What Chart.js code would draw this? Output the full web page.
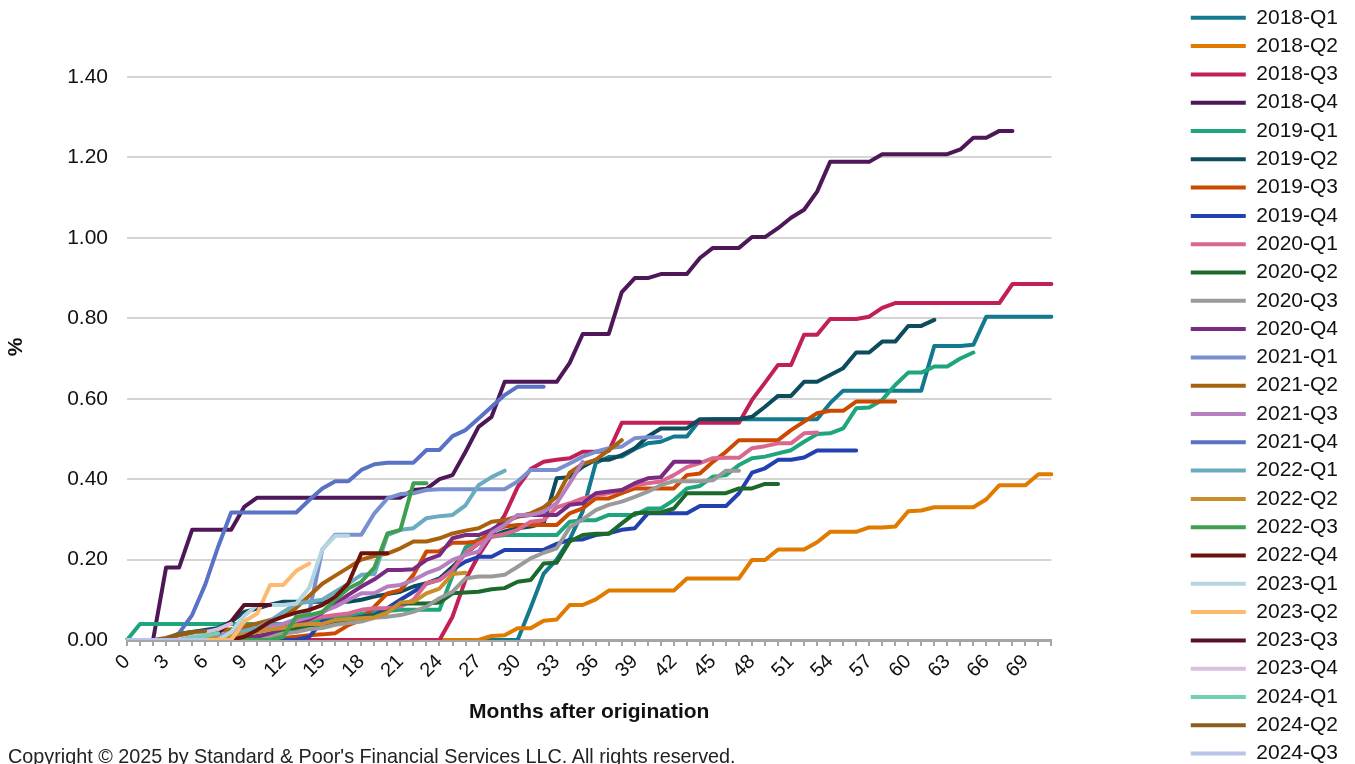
<!DOCTYPE html>
<html>
<head>
<meta charset="utf-8">
<script src="https://cdn.jsdelivr.net/npm/chart.js@4.4.1/dist/chart.umd.min.js"></script>
<style>
  html, body { margin: 0; padding: 0; background: #fff; overflow: hidden; width: 1355px; height: 764px; }
  #wrap { position: relative; width: 1355px; height: 764px; overflow: hidden; }
  #wrap canvas { position: absolute; left: 0; top: 0; }
  .note { position: absolute; left: 8px; top: 745px; font: 19.8px 'Liberation Sans', Arial, sans-serif; color: #222; white-space: nowrap; }
</style>
</head>
<body>
<div id="wrap">
  <canvas id="c" width="1355" height="764"></canvas>
  <div class="note">Copyright © 2025 by Standard &amp; Poor's Financial Services LLC. All rights reserved.</div>
</div>
<script>
// Months after origination (category axis), labelled every third month
const months = ['0','1','2','3','4','5','6','7','8','9','10','11','12','13','14','15','16','17','18','19',
  '20','21','22','23','24','25','26','27','28','29','30','31','32','33','34','35','36','37','38','39',
  '40','41','42','43','44','45','46','47','48','49','50','51','52','53','54','55','56','57','58','59',
  '60','61','62','63','64','65','66','67','68','69','70','71'];

const yTicks = [0, 0.2, 0.4, 0.6, 0.8, 1.0, 1.2, 1.4];

const cohorts = ['2018-Q1','2018-Q2','2018-Q3','2018-Q4','2019-Q1','2019-Q2','2019-Q3','2019-Q4',
  '2020-Q1','2020-Q2','2020-Q3','2020-Q4','2021-Q1','2021-Q2','2021-Q3','2021-Q4',
  '2022-Q1','2022-Q2','2022-Q3','2022-Q4','2023-Q1','2023-Q2','2023-Q3','2023-Q4',
  '2024-Q1','2024-Q2','2024-Q3'];

// Cumulative loss (%) by month after origination, one array per cohort
const q2018_1 = [0,0,0,0,0,0,0,0,0,0, 0,0,0,0,0,0,0,0,0,0, 0,0,0,0,0,0,0,0,0,0,
  0,0.08,0.165,0.2,0.25,0.32,0.44,0.455,0.456,0.475,
  0.489,0.493,0.506,0.506,0.547,0.549,0.549,0.549,0.549,0.549,
  0.549,0.549,0.549,0.549,0.589,0.62,0.62,0.62,0.62,0.62,
  0.62,0.62,0.731,0.731,0.731,0.734,0.804,0.804,0.804,0.804, 0.804,0.804];
const q2018_2 = [0,0,0,0,0,0,0,0,0,0, 0,0,0,0,0,0,0,0,0,0,
  0,0,0,0,0,0,0,0,0.01,0.012,
  0.029,0.029,0.048,0.051,0.087,0.087,0.101,0.123,0.123,0.123,
  0.123,0.123,0.123,0.153,0.153,0.153,0.153,0.153,0.199,0.199,
  0.225,0.225,0.225,0.243,0.269,0.269,0.269,0.28,0.28,0.282,
  0.32,0.322,0.33,0.33,0.33,0.33,0.35,0.385,0.385,0.385, 0.412,0.412];
const q2018_3 = [0,0,0,0,0,0,0,0,0,0, 0,0,0,0,0,0,0,0,0,0,
  0,0,0,0,0,0.058,0.15,0.21,0.26,0.31,
  0.38,0.425,0.443,0.448,0.452,0.468,0.468,0.47,0.54,0.54,
  0.54,0.54,0.54,0.54,0.54,0.54,0.54,0.54,0.597,0.64,
  0.684,0.684,0.759,0.759,0.798,0.798,0.798,0.804,0.826,0.838,
  0.838,0.838,0.838,0.838,0.838,0.838,0.838,0.838,0.885,0.885, 0.885,0.885];
const q2018_4 = [0,0,0,0.18,0.18,0.274,0.274,0.274,0.274,0.331,
  0.354,0.354,0.354,0.354,0.354,0.354,0.354,0.354,0.354,0.354,
  0.354,0.354,0.373,0.376,0.40,0.41,0.468,0.53,0.555,0.642,
  0.642,0.642,0.642,0.642,0.689,0.761,0.761,0.761,0.865,0.90,
  0.90,0.91,0.91,0.91,0.95,0.975,0.975,0.975,1.002,1.002,
  1.024,1.05,1.07,1.115,1.189,1.189,1.189,1.189,1.208,1.208,
  1.208,1.208,1.208,1.208,1.22,1.249,1.249,1.266,1.266];
const q2019_1 = [0,0.04,0.04,0.04,0.04,0.04,0.04,0.04,0.04,0.04,
  0.04,0.04,0.04,0.04,0.045,0.05,0.055,0.06,0.065,0.07,
  0.072,0.075,0.075,0.075,0.075,0.16,0.23,0.25,0.257,0.261,
  0.261,0.261,0.261,0.261,0.294,0.298,0.298,0.311,0.311,0.311,
  0.327,0.327,0.348,0.377,0.383,0.406,0.41,0.435,0.452,0.456,
  0.464,0.472,0.493,0.512,0.514,0.526,0.576,0.578,0.597,0.634,
  0.665,0.665,0.68,0.68,0.70,0.715];
const q2019_2 = [0,0,0,0,0.015,0.02,0.025,0.03,0.045,0.07,
  0.078,0.088,0.095,0.095,0.095,0.095,0.095,0.095,0.1,0.108,
  0.114,0.12,0.133,0.141,0.153,0.182,0.215,0.24,0.257,0.27,
  0.278,0.282,0.29,0.402,0.405,0.431,0.448,0.448,0.46,0.477,
  0.506,0.526,0.526,0.526,0.549,0.549,0.549,0.549,0.555,0.58,
  0.607,0.607,0.642,0.642,0.659,0.676,0.715,0.715,0.742,0.742,
  0.781,0.781,0.796];
const q2019_3 = [0,0,0,0,0,0,0,0,0,0,
  0,0,0.005,0.008,0.012,0.014,0.017,0.037,0.05,0.083,
  0.116,0.124,0.162,0.22,0.221,0.242,0.242,0.245,0.27,0.282,
  0.286,0.286,0.286,0.286,0.315,0.327,0.352,0.352,0.365,0.377,
  0.377,0.377,0.377,0.41,0.414,0.443,0.468,0.497,0.497,0.497,
  0.497,0.522,0.543,0.564,0.57,0.57,0.593,0.593,0.593,0.593];
const q2019_4 = [0,0,0,0,0,0,0,0,0,0,
  0,0,0,0,0.008,0.046,0.05,0.051,0.058,0.062,
  0.079,0.1,0.12,0.14,0.15,0.175,0.195,0.207,0.207,0.224,
  0.224,0.224,0.224,0.239,0.249,0.25,0.261,0.265,0.274,0.278,
  0.315,0.315,0.315,0.315,0.333,0.333,0.333,0.365,0.416,0.427,
  0.448,0.448,0.454,0.471,0.471,0.471,0.471];
const q2020_1 = [0,0,0,0,0,0,0,0,0,0,
  0,0.005,0.02,0.04,0.05,0.058,0.062,0.066,0.075,0.079,
  0.079,0.083,0.1,0.141,0.149,0.174,0.217,0.24,0.257,0.264,
  0.274,0.294,0.298,0.33,0.34,0.352,0.36,0.365,0.373,0.385,
  0.39,0.394,0.41,0.43,0.44,0.452,0.453,0.453,0.477,0.482,
  0.489,0.489,0.514,0.516];
const q2020_2 = [0,0,0,0,0,0,0,0,0,0.005,
  0.01,0.014,0.02,0.028,0.036,0.04,0.044,0.051,0.056,0.06,
  0.07,0.091,0.091,0.091,0.093,0.116,0.118,0.12,0.126,0.129,
  0.145,0.149,0.19,0.192,0.245,0.261,0.264,0.264,0.29,0.315,
  0.317,0.317,0.327,0.365,0.365,0.365,0.365,0.377,0.377,0.388,
  0.388];
const q2020_3 = [0,0,0,0,0,0,0,0,0,0,
  0.004,0.008,0.016,0.02,0.027,0.03,0.038,0.042,0.046,0.055,
  0.058,0.062,0.07,0.083,0.104,0.12,0.153,0.158,0.158,0.162,
  0.182,0.203,0.217,0.228,0.28,0.3,0.323,0.336,0.344,0.356,
  0.369,0.385,0.395,0.395,0.395,0.397,0.421,0.421];
const q2020_4 = [0,0,0,0,0,0,0,0,0,0,
  0.008,0.017,0.03,0.041,0.052,0.068,0.09,0.112,0.133,0.151,
  0.174,0.174,0.176,0.199,0.211,0.253,0.261,0.261,0.274,0.294,
  0.307,0.311,0.311,0.311,0.336,0.34,0.365,0.369,0.373,0.39,
  0.402,0.405,0.443,0.443,0.443];
const q2021_1 = [0,0,0,0,0,0,0.004,0.011,0.018,0.026,
  0.03,0.036,0.04,0.052,0.07,0.225,0.262,0.262,0.262,0.315,
  0.352,0.363,0.365,0.373,0.375,0.375,0.375,0.375,0.375,0.375,
  0.394,0.423,0.423,0.423,0.439,0.456,0.468,0.477,0.481,0.502,
  0.504,0.504];
const q2021_2 = [0,0,0,0,0.012,0.017,0.021,0.023,0.027,0.033,
  0.041,0.05,0.058,0.08,0.11,0.14,0.16,0.18,0.2,0.209,
  0.215,0.228,0.245,0.245,0.253,0.265,0.272,0.278,0.294,0.298,
  0.307,0.315,0.33,0.356,0.416,0.438,0.448,0.472,0.497];
const q2021_3 = [0,0,0,0,0,0,0,0,0.01,0.018,
  0.025,0.031,0.04,0.048,0.057,0.07,0.083,0.1,0.116,0.116,
  0.133,0.137,0.149,0.166,0.178,0.199,0.211,0.22,0.267,0.286,
  0.311,0.311,0.319,0.34,0.39,0.443];
const q2021_4 = [0,0,0,0,0.017,0.062,0.137,0.232,0.317,0.317,
  0.317,0.317,0.317,0.317,0.348,0.377,0.395,0.395,0.423,0.437,
  0.441,0.441,0.441,0.4725,0.4725,0.507,0.522,0.551,0.58,0.609,
  0.63,0.63,0.63];
const q2022_1 = [0,0,0,0,0,0,0,0,0.01,0.022,
  0.03,0.048,0.07,0.09,0.095,0.1,0.12,0.14,0.162,0.164,
  0.261,0.274,0.278,0.303,0.308,0.311,0.335,0.385,0.405,0.421];
const q2022_2 = [0,0,0,0,0,0,0,0.005,0.01,0.014,
  0.02,0.026,0.03,0.037,0.04,0.04,0.05,0.052,0.054,0.056,
  0.068,0.093,0.095,0.116,0.128,0.164,0.167];
const q2022_3 = [0,0,0,0,0,0,0,0,0,0,
  0,0,0.008,0.058,0.062,0.07,0.1,0.128,0.145,0.18,
  0.265,0.274,0.39,0.39];
const q2022_4 = [0,0,0,0,0,0,0,0,0,0.008,
  0.025,0.046,0.058,0.068,0.075,0.087,0.108,0.141,0.216,0.216,
  0.216];
const q2023_1 = [0,0,0,0,0,0,0,0,0.02,0.06,0.087,0.087,0.087,0.091,0.13,0.226,0.259,0.259];
const q2023_2 = [0,0,0,0,0,0,0,0,0,0.046,0.066,0.137,0.137,0.172,0.19];
const q2023_3 = [0,0,0,0,0,0,0.017,0.018,0.046,0.087,0.087,0.087];
const q2023_4 = [0,0,0,0,0,0.008,0.019,0.027,0.041];
const q2024_1 = [0,0,0,0,0,0.006,0.01,0.017];
const q2024_2 = [0,0,0,0.005,0.015,0.02,0.022];
const q2024_3 = [0,0,0,0,0,0,0];

const seriesValues = [q2018_1,q2018_2,q2018_3,q2018_4,q2019_1,q2019_2,q2019_3,q2019_4,
  q2020_1,q2020_2,q2020_3,q2020_4,q2021_1,q2021_2,q2021_3,q2021_4,
  q2022_1,q2022_2,q2022_3,q2022_4,q2023_1,q2023_2,q2023_3,q2023_4,
  q2024_1,q2024_2,q2024_3];

// Line colours, one per cohort
const palette = ['#12798e','#e07b00','#c21f55','#4e1858','#1ea57d','#0c4c5c','#cc4a00','#2340b0',
  '#d9678e','#1b6a2c','#9a9a9a','#7b2a84','#7a8fd0','#a8620e','#b67fbf','#5a72c6',
  '#6aabc0','#c98d2c','#3e9f4f','#6b130a','#b5d6df','#ffb86f','#5b0e28','#d8bfe0',
  '#72cfb2','#8a5e1f','#b8c4e9'];

const FONT = "'Liberation Sans', Arial, sans-serif";
Chart.defaults.font.family = FONT;

const datasets = cohorts.map((name, i) => ({
  label: name,
  data: seriesValues[i],
  borderColor: palette[i],
  backgroundColor: palette[i],
  borderWidth: 4,
  borderCapStyle: 'round',
  borderJoinStyle: 'round',
  pointRadius: 0,
  tension: 0,
  fill: false,
  // later cohorts are painted over earlier ones
  order: cohorts.length - i,
  xAxisID: 'x',
  yAxisID: 'y'
}));

new Chart(document.getElementById('c'), {
  type: 'line',
  data: { labels: months, datasets },
  options: {
    responsive: false,
    animation: false,
    events: [],
    // the layout runs 10px past the canvas foot so the legend column can use the full height
    layout: { padding: { left: 0, right: 7, top: 0, bottom: -10 } },
    plugins: {
      tooltip: { enabled: false },
      legend: {
        position: 'right',
        align: 'start',
        labels: {
          usePointStyle: true,
          pointStyle: 'line',
          pointStyleWidth: 55,
          padding: 7.3,
          color: '#111',
          font: { size: 21, family: FONT },
          sort: (a, b) => a.datasetIndex - b.datasetIndex
        }
      }
    },
    scales: {
      x: {
        type: 'category',
        position: 'bottom',
        offset: false,
        grid: { display: true, drawOnChartArea: false, drawTicks: true, tickLength: 6, color: '#a6a6a6', lineWidth: 2 },
        border: { display: true, color: '#a6a6a6', width: 3 },
        ticks: {
          autoSkip: false, maxRotation: 45, minRotation: 45, padding: 4,
          color: '#111', font: { size: 20 },
          callback: (v, i) => (i % 3 === 0 ? months[i] : '')
        },
        title: { display: true, text: 'Months after origination', color: '#111',
          font: { size: 21, weight: 'bold' }, padding: { top: 0, bottom: 49 } },
        afterFit: (s) => { s.height = 134; }
      },
      y: {
        type: 'linear',
        position: 'left',
        min: yTicks[0],
        max: yTicks[yTicks.length - 1],
        grid: { color: '#d4d4d4', lineWidth: 2, drawTicks: false },
        border: { display: false },
        afterBuildTicks: (s) => { s.ticks = yTicks.map(v => ({ value: v })); },
        ticks: { padding: 19, color: '#111', font: { size: 21 }, callback: (v) => Number(v).toFixed(2) },
        title: { display: true, text: '    %', color: '#111', font: { size: 21, weight: 'bold' }, padding: { top: 4, bottom: 0 } },
        afterFit: (s) => { s.width = 127; }
      },
      // empty bands that reserve room above the plot and between plot and legend
      topGap: {
        type: 'linear', axis: 'x', position: 'top', display: true,
        grid: { display: false }, border: { display: false }, ticks: { display: false },
        afterFit: (s) => { s.height = 77; }
      },
      rightGap: {
        type: 'linear', axis: 'y', position: 'right', display: true,
        grid: { display: false }, border: { display: false }, ticks: { display: false },
        afterFit: (s) => { s.width = 132; }
      }
    }
  }
});
</script>
</body>
</html>
